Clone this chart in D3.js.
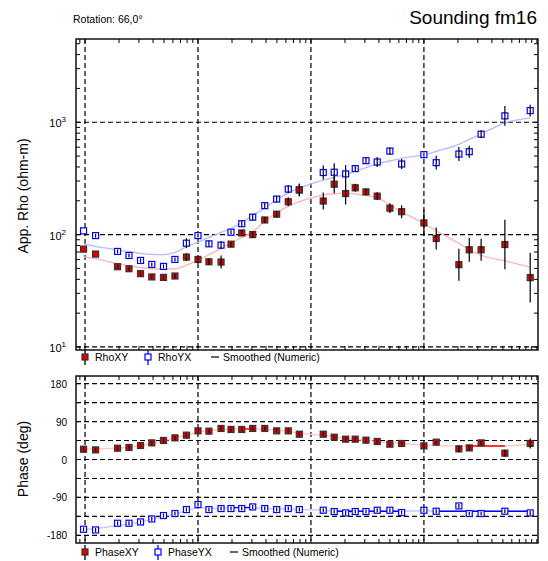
<!DOCTYPE html>
<html>
<head>
<meta charset="utf-8">
<script src="https://cdn.jsdelivr.net/npm/d3@7"></script>
<style>
body { margin: 0; background: #fff; }
text { font-family: "Liberation Sans", Arial, sans-serif; fill: #000; }
</style>
</head>
<body>
<div id="chart"></div>
<script>
// periods (s)
const periods = [0.00097, 0.00124, 0.00194, 0.00245, 0.0031, 0.0039, 0.00495, 0.00625, 0.0079, 0.01,
  0.0125, 0.016, 0.0196, 0.0244, 0.0305, 0.039, 0.0497, 0.063, 0.0789, 0.1285,
  0.1607, 0.2028, 0.2466, 0.307, 0.386, 0.5, 0.635, 1.0, 1.285, 2.04,
  2.52, 3.21, 5.21, 8.73];

// apparent resistivity (ohm-m)
const rhoXY = [74.3, 67.1, 51.8, 49.7, 44.9, 42.0, 41.6, 42.8, 63.1, 60.1,
  57.3, 57.0, 82.2, 103.5, 100, 135, 152, 196, 250, 199,
  281, 232, 261, 240, 220, 172, 160, 127, 92.3, 54.0,
  73.3, 73.3, 81.6, 41.4];
const rhoYX = [108, 98, 70.8, 65.2, 58.9, 54.3, 52.1, 60.1, 83.9, 98,
  82.8, 80.6, 105, 125, 143, 181, 207, 254, 250, 357,
  359, 347, 387, 455, 443, 554, 425, 515, 437, 521,
  547, 783, 1140, 1270];
// error half-widths in decades
const rhoXYErr = [0, 0, .018, .018, .018, .018, .018, .018, .035, .027,
  .027, .058, .018, .027, .027, .027, .027, .04, .058, .075,
  .08, .097, .035, .027, .035, .044, .058, .115, .097, .142,
  .106, .097, .221, .221];
const rhoYXErr = [0, .018, .018, .018, .018, .018, .018, .018, .044, .018,
  .027, .035, .018, .027, .027, .027, .027, .035, .053, .062,
  .08, .08, .027, .027, .044, .031, .044, .018, .062, .062,
  .053, .035, .088, .053];
const rhoXYSmooth = [63.5, 61.0, 55.1, 52.4, 50.7, 49.7, 49.4, 49.7, 53.4, 58.9,
  66.1, 75.5, 84.5, 94.5, 105.7, 132, 156, 179.5, 197, 225,
  231, 234, 231, 222, 213, 183, 159, 126, 108, 83.6,
  73.3, 65.5, 58.5, 51.4];
const rhoYXSmooth = [82.8, 78.7, 73.3, 70.4, 68.2, 66.8, 66.4, 69.5, 77.8, 85.7,
  94.5, 104.5, 113.4, 128.2, 147.9, 172.3, 205, 234, 259, 305,
  324, 342, 367, 394, 427, 452, 478, 515, 551, 636,
  703, 787, 988, 1094];

// phase (deg)
const phaseXY = [24.4, 22.8, 26.8, 28.5, 33.2, 39.4, 45.1, 51.3, 57.7, 67.9,
  67.2, 73.6, 71.2, 71.2, 73.6, 73.6, 67.9, 67.9, 60.0, 60.0,
  52.9, 48.2, 48.2, 45.8, 42.7, 36.3, 38.0, 32.3, 41.1, 25.2,
  27.5, 39.4, 15.0, 38.0];
const phaseYX = [-165.4, -167.1, -151.2, -151.2, -148.1, -141.0, -132.9, -128.1, -118.7, -106.8,
  -118.7, -116.3, -116.3, -116.3, -112.5, -116.3, -118.7, -116.3, -118.7, -120.3,
  -123.4, -126.7, -123.4, -123.4, -120.3, -120.3, -125.8, -120.3, -122.7, -110.1,
  -128.1, -128.1, -122.7, -126.7];
const phaseXYErr = [3, 2, 2, 2, 2, 2, 2, 2, 2, 2,
  2, 2, 2, 2, 2, 2, 2, 2, 2, 2,
  2, 2, 2, 2, 2, 2, 2, 2, 3, 8,
  6, 3, 8, 12];
const phaseYXErr = [2, 2, 2, 2, 2, 2, 2, 2, 2, 2,
  2, 2, 2, 2, 2, 2, 2, 2, 2, 2,
  2, 2, 2, 2, 2, 2, 2, 2, 2, 2,
  2, 2, 2, 2];
const phaseXYSmooth = [24, 25, 27, 29, 33, 38, 44, 51, 58, 65,
  69, 71, 72, 72.5, 72.5, 72, 70, 67, 62, 57,
  54, 50, 48, 45.5, 43, 40, 38, 34, 33, 31.5,
  32, 32, 32, 35.6];
const phaseYXSmooth = [-166, -164, -157, -153, -148, -142, -135, -129, -122, -114,
  -116, -116, -114, -114, -114, -116, -117, -118, -119, -120,
  -122.7, -122.7, -122.7, -122.7, -122.7, -122.7, -122.7, -121, -122.7, -122.7,
  -122.7, -122.7, -122.7, -122.7];
// index ranges where the smoothed phase is drawn in full colour
const phaseXYDark = [[13, 14], [30, 32]];
const phaseYXDark = [[12, 14], [20, 26], [28, 33]];

const phaseTicks = [180, 90, 0, -90, -180];
const phaseGrid = [180, 135, 90, 45, 0, -45, -90, -135, -180];
const rhoLabels = [1, 2, 3];
const periodGrid = [0.001, 0.01, 0.1, 1];

const svg = d3.select("#chart").append("svg").attr("width", 548).attr("height", 561);

const L = 76, R = 538;
const x = d3.scaleLog().domain([Math.pow(10, -3.08), Math.pow(10, 1.01)]).range([L, R]);
const yRho = d3.scaleLog().domain([Math.pow(10, 0.973), Math.pow(10, 3.741)]).range([350, 39]);
const yPh = d3.scaleLinear().domain([-198, 198]).range([543, 376]);

// titles
svg.append("text").attr("x", 73).attr("y", 23).style("font-size", "10.5px").text("Rotation: 66,0°");
svg.append("text").attr("x", 537).attr("y", 24).attr("text-anchor", "end").style("font-size", "19px").text("Sounding fm16");

function panel(yScale, top, bottom, yTickVals, gridVals) {
  const g = svg.append("g");
  // grid
  g.selectAll(".hgrid").data(gridVals).join("line")
    .attr("x1", L).attr("x2", R)
    .attr("y1", d => yScale(d)).attr("y2", d => yScale(d))
    .attr("stroke", "#000").attr("stroke-width", 1.2).attr("stroke-dasharray", "5,3");
  g.selectAll(".vgrid").data(periodGrid).join("line")
    .attr("x1", d => x(d)).attr("x2", d => x(d))
    .attr("y1", top).attr("y2", bottom)
    .attr("stroke", "#000").attr("stroke-width", 1.2).attr("stroke-dasharray", "5,3");
  // period ticks on top and bottom edge
  const xt = x.ticks();
  g.selectAll(".xt").data(xt).join("line")
    .attr("x1", d => x(d)).attr("x2", d => x(d))
    .attr("y1", top).attr("y2", top + 4).attr("stroke", "#000");
  g.selectAll(".xb").data(xt).join("line")
    .attr("x1", d => x(d)).attr("x2", d => x(d))
    .attr("y1", bottom).attr("y2", bottom - 4).attr("stroke", "#000");
  // left ticks
  g.selectAll(".yl").data(yTickVals).join("line")
    .attr("x1", L).attr("x2", L + 4)
    .attr("y1", d => yScale(d)).attr("y2", d => yScale(d)).attr("stroke", "#000");
  g.append("rect").attr("x", L).attr("y", top).attr("width", R - L).attr("height", bottom - top)
    .attr("fill", "none").attr("stroke", "#000").attr("stroke-width", 1.4);
  return g;
}

// ---- resistivity panel
const gr = panel(yRho, 39, 350, yRho.ticks(), [10, 100, 1000]);
gr.selectAll(".yr").data(yRho.ticks()).join("line")
  .attr("x1", R).attr("x2", R - 4)
  .attr("y1", d => yRho(d)).attr("y2", d => yRho(d)).attr("stroke", "#000");

const rhoLine = d3.line().x(d => x(d[0])).y(d => yRho(d[1])).curve(d3.curveMonotoneX);
gr.append("path").attr("d", rhoLine(d3.zip(periods, rhoXYSmooth)))
  .attr("fill", "none").attr("stroke", "#ffb4b4").attr("stroke-width", 1.3);
gr.append("path").attr("d", rhoLine(d3.zip(periods, rhoYXSmooth)))
  .attr("fill", "none").attr("stroke", "#b8b8ff").attr("stroke-width", 1.3);

function drawPoints(g, yScale, vals, errs, logErr, filled) {
  const data = periods.map((p, i) => ({ p: p, v: vals[i], e: errs[i] }));
  const lo = d => logErr ? yScale(d.v / Math.pow(10, d.e)) : yScale(d.v - d.e);
  const hi = d => logErr ? yScale(d.v * Math.pow(10, d.e)) : yScale(d.v + d.e);
  g.append("g").selectAll("rect").data(data).join("rect")
    .attr("x", d => x(d.p) - 3).attr("y", d => yScale(d.v) - 3)
    .attr("width", 6).attr("height", 6)
    .attr("fill", filled ? "#e00000" : "#fff")
    .attr("stroke", filled ? "#333" : "#0000ff").attr("stroke-width", 1.2);
  g.append("g").selectAll("line").data(data.filter(d => d.e > 0)).join("line")
    .attr("x1", d => x(d.p)).attr("x2", d => x(d.p))
    .attr("y1", d => Math.max(lo(d), yScale(d.v) + 2)).attr("y2", d => Math.min(hi(d), yScale(d.v) - 2))
    .attr("stroke", "#000").attr("stroke-width", 1.2);
}
drawPoints(gr, yRho, rhoYX, rhoYXErr, true, false);
drawPoints(gr, yRho, rhoXY, rhoXYErr, true, true);

// rho axis labels
const rl = svg.selectAll(".rl").data(rhoLabels).join("text")
  .attr("x", 66).attr("y", d => yRho(Math.pow(10, d)) + 5)
  .attr("text-anchor", "end").style("font-size", "11px");
rl.append("tspan").text("10");
rl.append("tspan").attr("dy", -5).style("font-size", "8px").text(d => d);
svg.append("text").attr("transform", "translate(28,196) rotate(-90)")
  .attr("text-anchor", "middle").style("font-size", "14px").text("App. Rho (ohm-m)");

// ---- phase panel
const gp = panel(yPh, 376, 543, phaseGrid, phaseGrid);
const phLine = d3.line().x(d => x(d[0])).y(d => yPh(d[1]));
gp.append("path").attr("d", phLine(d3.zip(periods, phaseXYSmooth)))
  .attr("fill", "none").attr("stroke", "#ffc4c4").attr("stroke-width", 1.3);
gp.append("path").attr("d", phLine(d3.zip(periods, phaseYXSmooth)))
  .attr("fill", "none").attr("stroke", "#c4c4ff").attr("stroke-width", 1.3);
phaseXYDark.forEach(r => {
  gp.append("path").attr("d", phLine(d3.zip(periods, phaseXYSmooth).slice(r[0], r[1] + 1)))
    .attr("fill", "none").attr("stroke", "#ff0000").attr("stroke-width", 1.3);
});
phaseYXDark.forEach(r => {
  gp.append("path").attr("d", phLine(d3.zip(periods, phaseYXSmooth).slice(r[0], r[1] + 1)))
    .attr("fill", "none").attr("stroke", "#0000ff").attr("stroke-width", 1.3);
});
drawPoints(gp, yPh, phaseYX, phaseYXErr, false, false);
drawPoints(gp, yPh, phaseXY, phaseXYErr, false, true);

svg.selectAll(".pl").data(phaseTicks).join("text")
  .attr("x", 67).attr("y", d => yPh(d) + 4)
  .attr("text-anchor", "end").style("font-size", "10px").text(d => d);
svg.append("text").attr("transform", "translate(28,459) rotate(-90)")
  .attr("text-anchor", "middle").style("font-size", "14px").text("Phase (deg)");

// ---- legends
function legend(y, names, xs) {
  const g = svg.append("g");
  g.append("line").attr("x1", 85).attr("x2", 85).attr("y1", y - 7).attr("y2", y + 8).attr("stroke", "#000").attr("stroke-width", 1.3);
  g.append("rect").attr("x", 82).attr("y", y - 3).attr("width", 6).attr("height", 6)
    .attr("fill", "#e00000").attr("stroke", "#333").attr("stroke-width", 1.2);
  g.append("text").attr("x", 95).attr("y", y + 4).style("font-size", "10.5px").text(names[0]);
  g.append("line").attr("x1", xs[0]).attr("x2", xs[0]).attr("y1", y - 7).attr("y2", y + 8).attr("stroke", "#0000ff").attr("stroke-width", 1.3);
  g.append("rect").attr("x", xs[0] - 3).attr("y", y - 3).attr("width", 6).attr("height", 6)
    .attr("fill", "#fff").attr("stroke", "#0000ff").attr("stroke-width", 1.2);
  g.append("text").attr("x", xs[0] + 10).attr("y", y + 4).style("font-size", "10.5px").text(names[1]);
  g.append("line").attr("x1", xs[1]).attr("x2", xs[1] + 8).attr("y1", y).attr("y2", y).attr("stroke", "#000").attr("stroke-width", 1.2);
  g.append("text").attr("x", xs[1] + 12).attr("y", y + 4).style("font-size", "10.5px").text("Smoothed (Numeric)");
}
legend(357, ["RhoXY", "RhoYX"], [148, 211]);
legend(552, ["PhaseXY", "PhaseYX"], [158, 230]);
</script>
</body>
</html>
